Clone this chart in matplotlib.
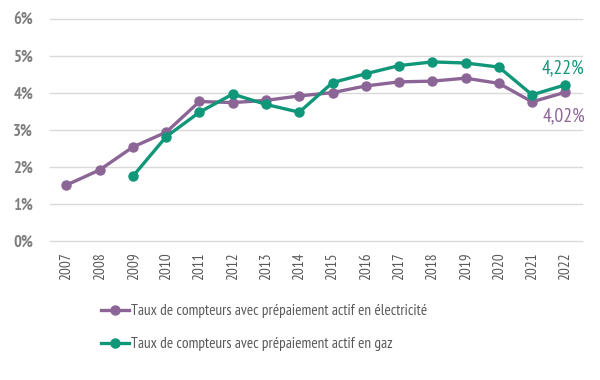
import matplotlib.pyplot as plt
import numpy as np

plt.rcParams['font.family'] = ['PT Sans Narrow', 'DejaVu Sans']

# Data (percent)
years = [str(y) for y in range(2007, 2023)]
elec = [1.51, 1.92, 2.54, 2.94, 3.77, 3.74, 3.80, 3.92, 4.01, 4.19, 4.30, 4.32, 4.40, 4.26, 3.76, 4.02]
gaz = [np.nan, np.nan, 1.75, 2.82, 3.48, 3.97, 3.69, 3.48, 4.28, 4.52, 4.74, 4.84, 4.81, 4.70, 3.95, 4.22]
labels = ['Taux de compteurs avec prépaiement actif en électricité',
          'Taux de compteurs avec prépaiement actif en gaz']

purple = '#8c6597'
green = '#10977a'
grey = '#7f7f7f'

fig = plt.figure(figsize=(6, 3.8), dpi=100)
ax = fig.add_axes([0.083, 0.366, 0.887, 0.584])

x = np.arange(len(years))
ax.plot(x, elec, color=purple, lw=2.4, marker='o', ms=6.5, label=labels[0])
ax.plot(x, gaz, color=green, lw=2.4, marker='o', ms=6.5, label=labels[1])

ax.set_xlim(-0.5, len(years) - 0.5)
ax.set_ylim(0, 6)
ax.set_yticks(range(7))
ax.set_yticklabels([f'{v}%' for v in range(7)], fontsize=12, color=grey, fontweight='bold')
ax.set_xticks(x)
ax.set_xticklabels(years, rotation=90, fontsize=11, color='#595959')
ax.tick_params(length=0, pad=8)
ax.tick_params(axis='y', pad=12)
ax.grid(axis='y', color='#d9d9d9', lw=1, clip_on=False)
ax.set_axisbelow(True)
for s in ax.spines.values():
    s.set_visible(False)

# end-of-series value labels
ax.annotate('4,22%', (x[-1], gaz[-1]), xytext=(-2, 5.5), textcoords='offset points',
            color=green, fontsize=14, ha='center', va='bottom')
ax.annotate('4,02%', (x[-1], elec[-1]), xytext=(-1, -11), textcoords='offset points',
            color=purple, fontsize=14, ha='center', va='top')

fig.legend(loc='upper left', bbox_to_anchor=(0.155, 0.22), frameon=False,
           fontsize=11, labelcolor='#595959', handlelength=1.85, handletextpad=0.15,
           labelspacing=1.25, borderpad=0)

fig.savefig('out.png', dpi=100)
